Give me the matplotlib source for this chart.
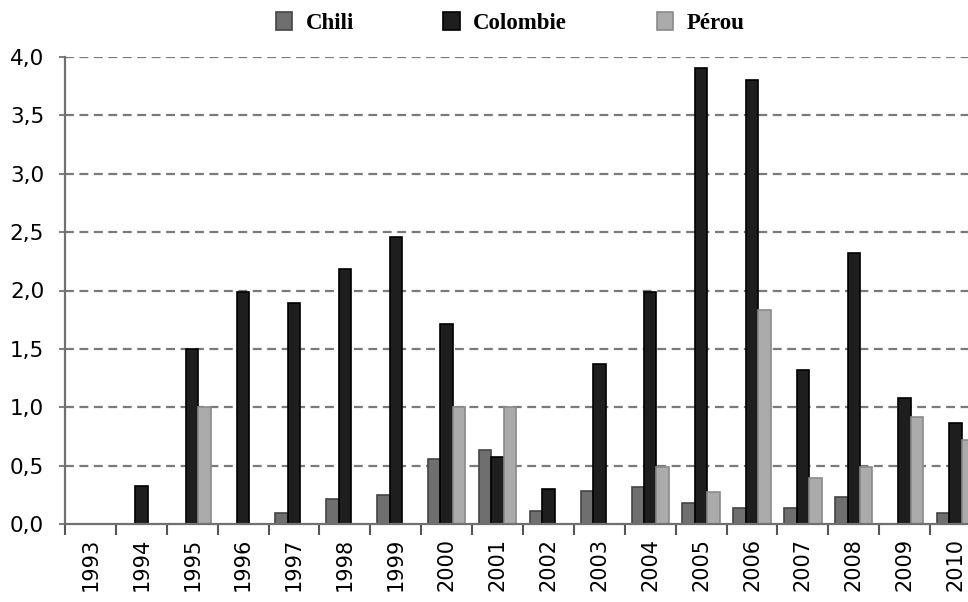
#!/usr/bin/env python3
# -*- coding: utf-8 -*-
"""
Barres groupées par année : Chili, Colombie, Pérou (1993-2010).
Enregistre le graphique dans out.png.
"""

import numpy as np
import matplotlib
matplotlib.use("Agg")
import matplotlib.pyplot as plt

# ---- DONNÉES ---------------------------------------------------------------
annees = ["1993", "1994", "1995", "1996", "1997", "1998", "1999", "2000", "2001",
          "2002", "2003", "2004", "2005", "2006", "2007", "2008", "2009", "2010"]

chili = [0.0, 0.0, 0.0, 0.0, 0.09, 0.21, 0.25, 0.555, 0.63,
         0.11, 0.285, 0.32, 0.18, 0.14, 0.14, 0.235, 0.0, 0.09]

colombie = [0.0, 0.325, 1.50, 1.99, 1.89, 2.18, 2.46, 1.71, 0.575,
            0.30, 1.37, 1.99, 3.91, 3.80, 1.32, 2.32, 1.075, 0.865]

perou = [0.0, 0.0, 1.0, 0.0, 0.0, 0.0, 0.0, 1.0, 1.0,
         0.0, 0.0, 0.49, 0.27, 1.835, 0.39, 0.49, 0.92, 0.72]

series = ["Chili", "Colombie", "Pérou"]
yticks = [0.0, 0.5, 1.0, 1.5, 2.0, 2.5, 3.0, 3.5, 4.0]
# ---------------------------------------------------------------------------

# couleurs : gris moyen, presque noir, gris clair
FACES = ["#6f6f6f", "#1e1e1e", "#ababab"]
EDGES = ["#444444", "#000000", "#8a8a8a"]
LARGEUR = 0.245

fig = plt.figure(figsize=(9.68, 6.02), dpi=100)
# l'axe dépasse volontairement le bord droit (2010 coupé)
ax = fig.add_axes([65 / 968, 78 / 602, 916 / 968, 467 / 602])

x = np.arange(len(annees))
for k, (nom, vals) in enumerate(zip(series, [chili, colombie, perou])):
    ax.bar(x + (k - 1) * LARGEUR, vals, width=LARGEUR, label=nom,
           color=FACES[k], edgecolor=EDGES[k], linewidth=1.2, zorder=3)

ax.set_xlim(-0.5, len(annees) - 0.5)
ax.set_ylim(0, 4.0)

# grille pointillée horizontale
ax.set_yticks(yticks)
ax.set_yticklabels([f"{v:.1f}".replace(".", ",") for v in yticks])
for v in yticks[1:]:
    ax.axhline(v, color="#7a7a7a", linestyle=(0, (4, 2.5)), linewidth=1.6, zorder=1)

# années au centre, petits traits entre les groupes
ax.set_xticks(x)
ax.set_xticklabels(annees, rotation=90)
ax.set_xticks(np.arange(len(annees) + 1) - 0.5, minor=True)
ax.tick_params(axis="x", which="major", length=0, pad=10, labelsize=15)
ax.tick_params(axis="x", which="minor", length=8, width=1.5, color="#555555",
               direction="out")
ax.tick_params(axis="y", length=4, width=1.2, color="#666666", labelsize=15.5, pad=11)

for s in ["top", "right"]:
    ax.spines[s].set_visible(False)
for s in ["left", "bottom"]:
    ax.spines[s].set_color("#707070")
    ax.spines[s].set_linewidth(1.6)
ax.spines["bottom"].set_zorder(4)

# légende en haut, police serif grasse
handles, labels = ax.get_legend_handles_labels()
fig.legend(handles, labels, loc="center", bbox_to_anchor=(0.527, 0.962), ncol=3,
           frameon=False, handlelength=0.7, handleheight=0.85, handletextpad=0.6,
           columnspacing=3.9,
           prop={"family": "Liberation Serif", "weight": "bold", "size": 16.5})

fig.savefig("out.png", dpi=100)
